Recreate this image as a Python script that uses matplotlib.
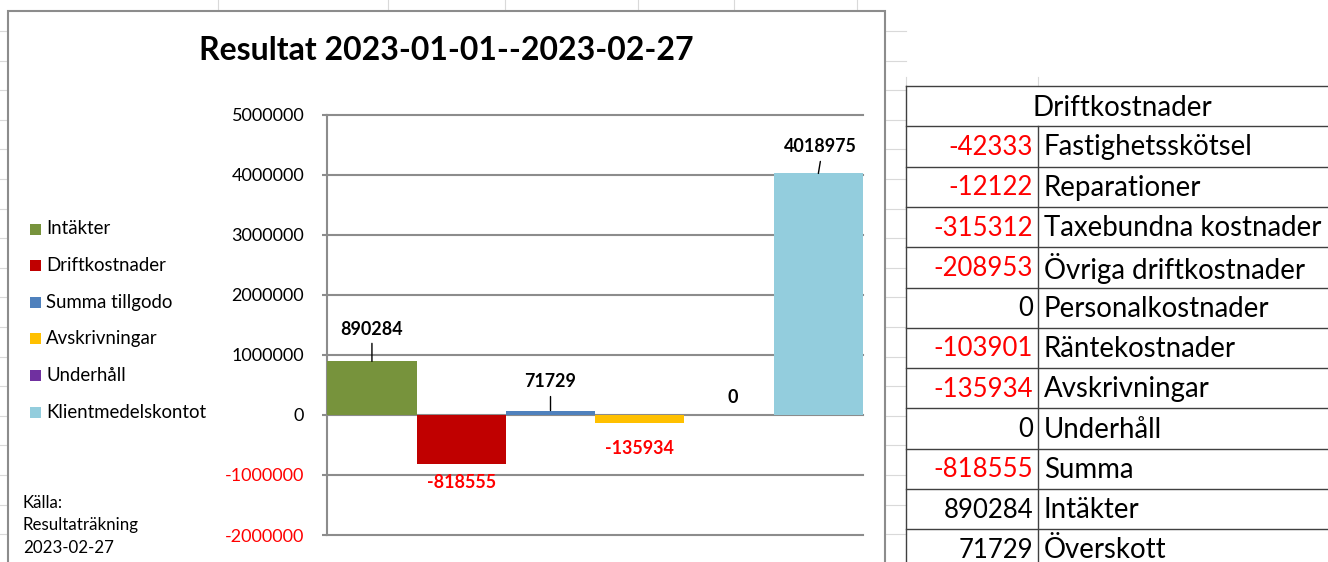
import matplotlib
matplotlib.use("Agg")
import matplotlib.pyplot as plt
from matplotlib.patches import Rectangle
import matplotlib.ticker as mticker

# ---------------- data ----------------
title = "Resultat 2023-01-01--2023-02-27"
series = ["Intäkter", "Driftkostnader", "Summa tillgodo", "Avskrivningar",
          "Underhåll", "Klientmedelskontot"]
values = [890284, -818555, 71729, -135934, 0, 4018975]
colors = ["#77933C", "#C00000", "#4F81BD", "#FFC000", "#7030A0", "#93CDDD"]
yticks = [-2000000, -1000000, 0, 1000000, 2000000, 3000000, 4000000, 5000000]
source_lines = ["Källa:", "Resultaträkning", "2023-02-27"]

table_title = "Driftkostnader"
table_values = [-42333, -12122, -315312, -208953, 0, -103901, -135934, 0,
                -818555, 890284, 71729]
table_labels = ["Fastighetsskötsel", "Reparationer", "Taxebundna kostnader",
                "Övriga driftkostnader", "Personalkostnader", "Räntekostnader",
                "Avskrivningar", "Underhåll", "Summa", "Intäkter", "Överskott"]

# ---------------- style ----------------
W, H, DPI = 1328, 562, 100
FONT = ["Lato", "DejaVu Sans"]
plt.rcParams["font.family"] = FONT
RED = "#FF0000"
AXCOL = "#8C8C8C"
EXCEL = "#D9D9D9"
PT = 72.0 / DPI  # points per pixel

fig = plt.figure(figsize=(W / DPI, H / DPI), dpi=DPI)
fig.patch.set_facecolor("white")

# background / overlay axes in pixel coordinates (y downward)
bg = fig.add_axes([0, 0, 1, 1], zorder=0)
bg.set_xlim(0, W)
bg.set_ylim(H, 0)
bg.axis("off")

# excel grid lines visible outside the chart object
for x in [218, 388, 505, 638, 734, 857]:
    bg.plot([x, x], [0, 11], color=EXCEL, lw=0.8, zorder=0)
for k in range(20):
    y = 31 + 29.6 * k
    if y > H:
        break
    bg.plot([0, 8], [y, y], color=EXCEL, lw=0.8, zorder=0)
    bg.plot([886, 906], [y, y], color=EXCEL, lw=0.8, zorder=0)
for x in [906, 1038]:
    bg.plot([x, x], [77, 86], color=EXCEL, lw=0.8, zorder=0)

# chart object frame
bg.add_patch(Rectangle((8, 11), 877, 620, facecolor="white", edgecolor=AXCOL,
                       lw=1.5 * PT * 1.4, zorder=1))

# title
bg.text(446, 50, title, ha="center", va="center", fontsize=23,
        fontweight="bold", color="black", zorder=2)

# legend (manual, Excel style)
leg_y0, leg_dy = 229, 36.6
for i, (name, col) in enumerate(zip(series, colors)):
    yc = leg_y0 + i * leg_dy
    bg.add_patch(Rectangle((30, yc - 5.5), 11, 11, facecolor=col,
                           edgecolor="none", zorder=2))
    bg.text(46, yc, name, ha="left", va="center", fontsize=13.4,
            color="black", zorder=2)

# source note
for i, line in enumerate(source_lines):
    bg.text(23, 503 + i * 22.3, line, ha="left", va="center", fontsize=12.2,
            color="black", zorder=2)

# ---------------- table ----------------
t_left, t_div, t_right = 906, 1038, 1345
t_top, rh = 86, 40.3
n_rows = len(table_values) + 1
TCOL = "#404040"
for r in range(n_rows + 1):
    y = t_top + r * rh
    bg.plot([t_left, t_right], [y, y], color=TCOL, lw=1.0, zorder=2)
bg.plot([t_left, t_left], [t_top, t_top + n_rows * rh], color=TCOL, lw=1.0, zorder=2)
bg.plot([t_div, t_div], [t_top + rh, t_top + n_rows * rh], color=TCOL, lw=1.0, zorder=2)
bg.text(1122, t_top + rh / 2 + 1.5, table_title, ha="center", va="center",
        fontsize=20, color="black", zorder=3)
for r, (v, lab) in enumerate(zip(table_values, table_labels)):
    yc = t_top + (r + 1.5) * rh + 1
    bg.text(t_div - 5, yc, f"{v}", ha="right", va="center", fontsize=18.5,
            color=RED if v < 0 else "black", zorder=3)
    bg.text(t_div + 6, yc, lab, ha="left", va="center", fontsize=19.9,
            color="black", zorder=3)

# ---------------- chart axes ----------------
x0, x1, ytop, ybot = 327.3, 863, 114.5, 535
ax = fig.add_axes([x0 / W, 1 - ybot / H, (x1 - x0) / W, (ybot - ytop) / H], zorder=2)
ax.patch.set_visible(False)

xs = list(range(len(values)))
ax.bar(xs, values, width=1.0, color=colors, zorder=3)
ax.set_xlim(-0.5, len(values) - 0.5)
ax.set_ylim(yticks[0], yticks[-1])
ax.set_yticks(yticks)
ax.yaxis.set_major_formatter(mticker.FuncFormatter(lambda v, p: f"{int(v)}"))
ax.set_xticks([])
ax.yaxis.grid(True, color=AXCOL, lw=1.5 * PT * 1.4)
for gl in ax.get_ygridlines():
    gl.set_clip_on(False)
ax.set_axisbelow(True)
for s in ["top", "right", "bottom"]:
    ax.spines[s].set_visible(False)
ax.spines["left"].set_color(AXCOL)
ax.spines["left"].set_linewidth(1.5 * PT * 1.4)
ax.tick_params(axis="y", direction="out", length=5 * PT, width=1.5 * PT * 1.4,
               color=AXCOL, labelsize=13, pad=13)
for lab, t in zip(ax.get_yticklabels(), yticks):
    lab.set_color(RED if t < 0 else "black")

# data labels: (dx px, dy px, leader length px)
label_off = [(0, 32, 18), (0, -18, 0), (0, 29, 14), (0, -25, 0), (4, 17, 0), (2, 27, 12)]
for x, v, (dx, dy, lead) in zip(xs, values, label_off):
    ax.annotate(f"{v}", xy=(x, v), xytext=(dx * PT, dy * PT), textcoords="offset points",
                ha="center", va="center", fontsize=12.9, fontweight="bold",
                color=RED if v < 0 else "black", zorder=5)
    if lead:
        ax.annotate("", xy=(x, v), xytext=(dx * PT, lead * PT), textcoords="offset points",
                    arrowprops=dict(arrowstyle="-", color="black", lw=1.0,
                                    shrinkA=0, shrinkB=0), zorder=5)

fig.savefig("out.png", dpi=DPI, facecolor="white")
